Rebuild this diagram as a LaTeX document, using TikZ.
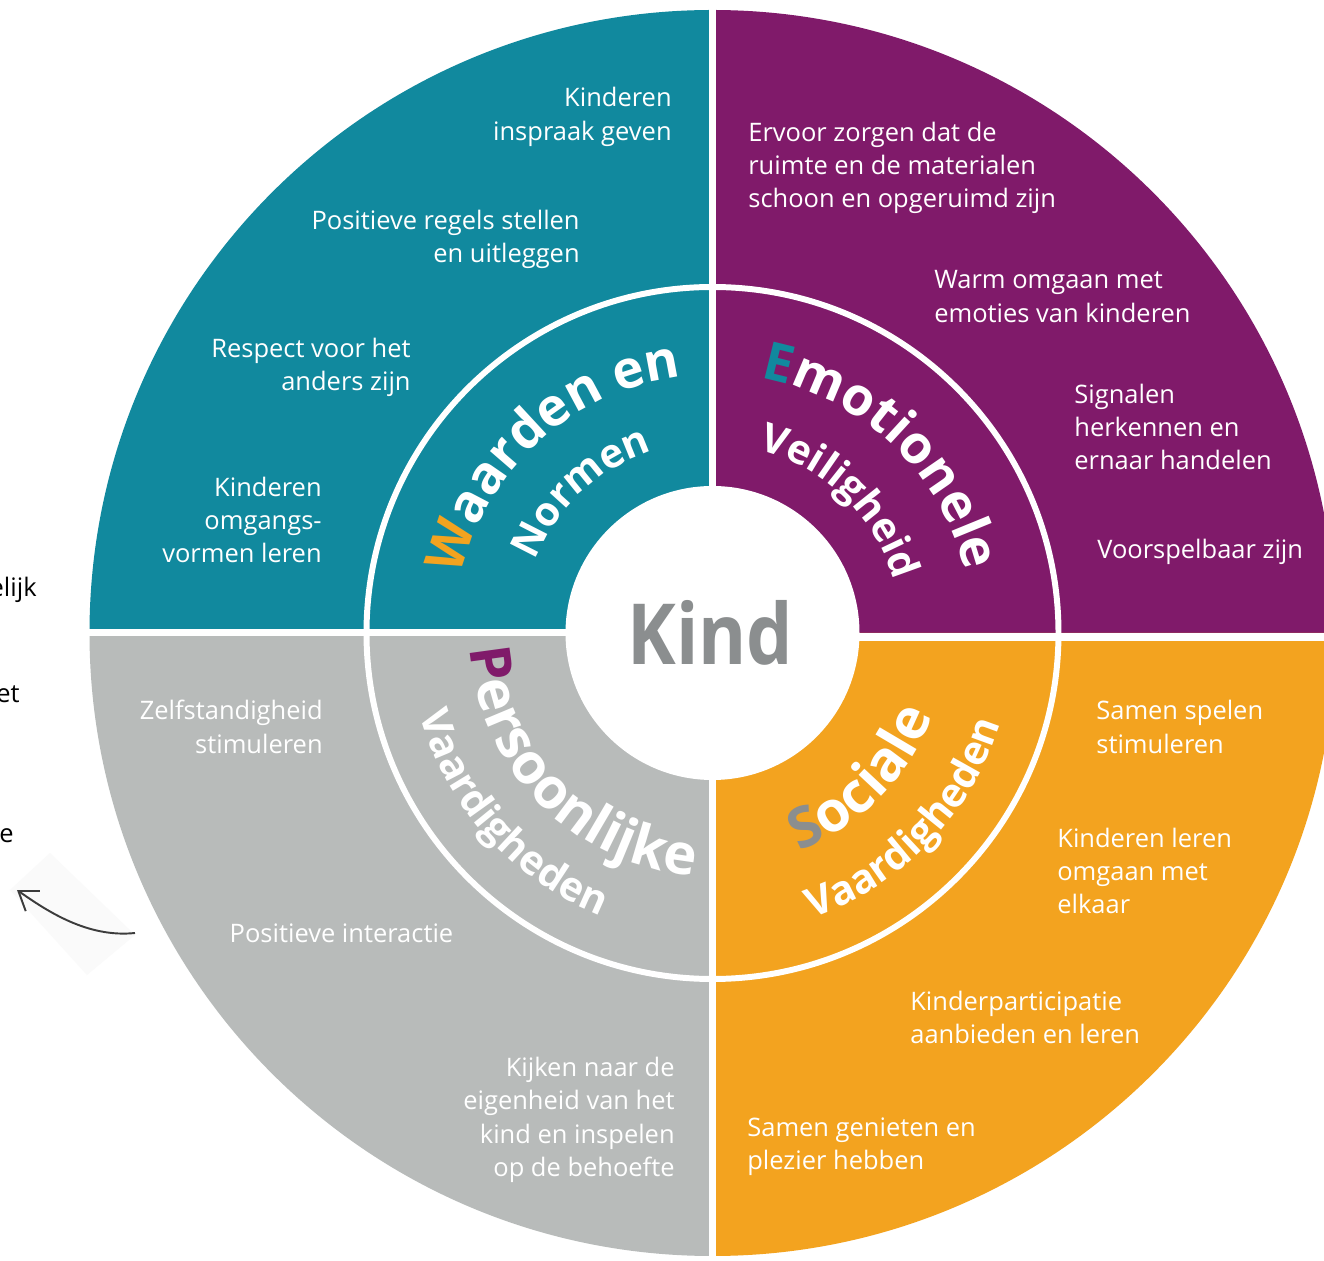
\documentclass[tikz,border=0pt]{standalone}
\usepackage{fontspec}
\setmainfont{Open Sans}
\usepackage{tikz}
\usetikzlibrary{decorations.text}
\usetikzlibrary{arrows.meta}
\usepackage{xcolor}
\definecolor{ColTeal}{RGB}{17,137,158}
\definecolor{ColPurple}{RGB}{128,26,106}
\definecolor{ColOrange}{RGB}{243,163,31}
\definecolor{ColGrey}{RGB}{184,187,186}
\definecolor{ColKind}{RGB}{139,142,143}
\definecolor{ColArrow}{RGB}{60,60,60}
\newcommand{\UpperArcFont}{\fontsize{30}{30}\selectfont\bfseries}
\newcommand{\LowerArcFont}{\fontsize{32}{32}\selectfont\bfseries}
\newcommand{\SmallArcFont}{\fontsize{23}{23}\selectfont\bfseries}
\tikzstyle{Tip}=[text=white,inner sep=0pt,font=\fontsize{14.5}{19}\selectfont]
\tikzstyle{TipRight}=[Tip,align=right,anchor=east,yshift=-0.06cm]
\tikzstyle{TipLeft}=[Tip,align=left,anchor=west,yshift=-0.06cm]
\tikzstyle{CutText}=[text=black,inner sep=0pt,anchor=east,font=\fontsize{14.5}{19}\selectfont]
\tikzstyle{ArrowCurve}=[ColArrow,line width=1.1pt,-{Straight Barb[length=10pt,width=14pt]}]

\begin{document}
\begin{tikzpicture}[x=0.02cm,y=0.02cm]
        \clip(-712.5,-627)rectangle(611.5,633);
        \fill[white](-712.5,-627)rectangle(611.5,633);
        \fill[ColTeal](0,0)--(180:623)arc[start angle=180,end angle=90,radius=623]--cycle;
        \fill[ColPurple](0,0)--(90:623)arc[start angle=90,end angle=0,radius=623]--cycle;
        \fill[ColOrange](0,0)--(0:623)arc[start angle=0,end angle=-90,radius=623]--cycle;
        \fill[ColGrey](0,0)--(270:623)arc[start angle=270,end angle=180,radius=623]--cycle;
        \fill[white](-3.5,-640)rectangle(3.5,640);
        \fill[white](-640,-3)rectangle(0,4);
        \fill[white](0,-8)rectangle(640,0);
        \draw[white,line width=3.4pt](0,0)circle[radius=346];
        \fill[white](0,0)circle[radius=147];
        \node[text=ColKind,font=\fontsize{48}{48}\selectfont\bfseries,xscale=.87,transform shape](kind)at(-2,0){Kind};
        \path[decorate,decoration={text along path,text align=center,
            text={|\UpperArcFont\color{ColOrange}|W|\UpperArcFont\color{white}|aarden en}}]
            (202:258)arc[start angle=202,end angle=62,radius=258];
        \path[decorate,decoration={text along path,text align=center,
            text={|\SmallArcFont\color{white}|Normen}}]
            (203:192)arc[start angle=203,end angle=63,radius=192];
        \path[decorate,decoration={text along path,text align=center,
            text={|\UpperArcFont\color{ColTeal}|E|\UpperArcFont\color{white}|motionele}}]
            (116.5:260)arc[start angle=116.5,end angle=-23.5,radius=260];
        \path[decorate,decoration={text along path,text align=center,
            text={|\SmallArcFont\color{white}|Veiligheid}}]
            (116:189)arc[start angle=116,end angle=-24,radius=189];
        \path[decorate,decoration={text along path,text align=center,
            text={|\LowerArcFont\color{ColPurple}|P|\LowerArcFont\color{white}|ersoonlijke}}]
            (154.6:243)arc[start angle=154.6,end angle=294.6,radius=243];
        \path[decorate,decoration={text along path,text align=center,
            text={|\SmallArcFont\color{white}|Vaardigheden}}]
            (152:304)arc[start angle=152,end angle=292,radius=304];
        \path[decorate,decoration={text along path,text align=center,
            text={|\LowerArcFont\color{ColKind}|S|\LowerArcFont\color{white}|ociale}}]
            (245.6:235)arc[start angle=245.6,end angle=385.6,radius=235];
        \path[decorate,decoration={text along path,text align=center,
            text={|\SmallArcFont\color{white}|Vaardigheden}}]
            (246:302)arc[start angle=246,end angle=386,radius=302];
        \node[TipRight](inspraak)at(-40.5,519){Kinderen\\inspraak geven};
        \node[TipRight](regels)at(-132.5,396.5){Positieve regels stellen\\en uitleggen};
        \node[TipRight](respect)at(-301.5,268.5){Respect voor het\\anders zijn};
        \node[TipRight](omgang)at(-390.5,116){Kinderen\\omgangs-\\vormen leren};
        \node[TipLeft](ruimte)at(35.5,468){Ervoor zorgen dat de\\ruimte en de materialen\\schoon en opgeruimd zijn};
        \node[TipLeft](emoties)at(221.5,339.5){Warm omgaan met\\emoties van kinderen};
        \node[TipLeft](signalen)at(361.5,209){Signalen\\herkennen en\\ernaar handelen};
        \node[TipLeft](voorspel)at(384.5,84){Voorspelbaar zijn};
        \node[TipRight](zelf)at(-389.5,-91){Zelfstandigheid\\stimuleren};
        \node[Tip](interactie)at(-371,-300){Positieve interactie};
        \node[TipRight](eigenheid)at(-37.5,-484){Kijken naar de\\eigenheid van het\\kind en inspelen\\op de behoefte};
        \node[TipLeft](spelen)at(383.5,-91){Samen spelen\\stimuleren};
        \node[TipLeft](elkaar)at(344.5,-235){Kinderen leren\\omgaan met\\elkaar};
        \node[TipLeft](participatie)at(197.5,-381.5){Kinderparticipatie\\aanbieden en leren};
        \node[TipLeft](genieten)at(34.5,-511){Samen genieten en\\plezier hebben};
        \node[CutText](cutA)at(-675.5,43){elijk};
        \node[CutText](cutB)at(-692.5,-61){et};
        \node[CutText](cutC)at(-698.5,-203){e};
        \fill[black!2](-662.5,-220)--(-577.5,-302)--(-625.5,-342)--(-702.5,-257)--cycle;
        \coordinate(arrowStart)at(-577.5,-300);
        \coordinate(arrowEnd)at(-695.5,-257);
        \draw[ArrowCurve](arrowStart)..controls(-625,-305)and(-665.5,-278)..(arrowEnd);
    \end{tikzpicture}
\end{document}
